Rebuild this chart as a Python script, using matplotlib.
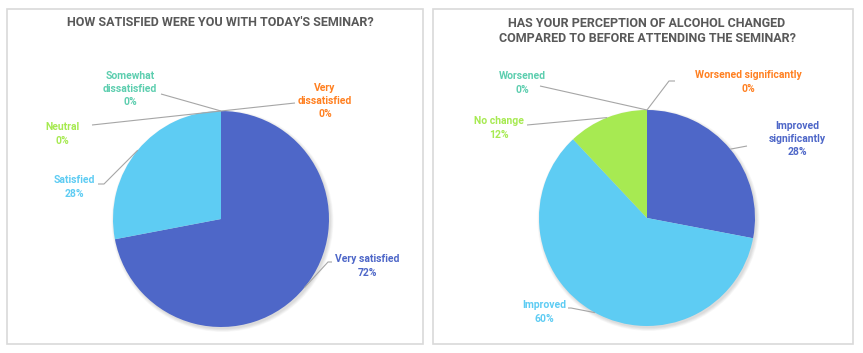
import numpy as np
import matplotlib.pyplot as plt
from matplotlib.patches import Rectangle, Circle, Wedge

plt.rcParams['font.family'] = ['Roboto', 'DejaVu Sans']

# data
sat_labels = ["Very satisfied", "Satisfied", "Neutral", "Somewhat\ndissatisfied", "Very\ndissatisfied"]
sat_values = [72, 28, 0, 0, 0]
perc_labels = ["Improved\nsignificantly", "Improved", "No change", "Worsened", "Worsened significantly"]
perc_values = [28, 60, 12, 0, 0]
colors = ["#4E67C8", "#5ECCF3", "#A7EA52", "#5DCEAF", "#FF8021"]

W, H = 863, 353
fig = plt.figure(figsize=(W / 100, H / 100), dpi=100)
ax = fig.add_axes([0, 0, 1, 1])
ax.set_xlim(0, W)
ax.set_ylim(H, 0)
ax.axis('off')

# panel frames
for x0, x1 in [(7, 423), (433, 853)]:
    ax.add_patch(Rectangle((x0, 9), x1 - x0, 335, fill=False, ec="#D9D9D9", lw=1.2))

ax.text(220, 23, "HOW SATISFIED WERE YOU WITH TODAY'S SEMINAR?", ha='center', va='center',
        fontsize=9, fontweight='bold', color="#595959")
ax.text(647, 31, "HAS YOUR PERCEPTION OF ALCOHOL CHANGED\nCOMPARED TO BEFORE ATTENDING THE SEMINAR?",
        ha='center', va='center', fontsize=9, fontweight='bold', color="#595959", linespacing=1.25)


def draw_pie(cx, cy, r, values, labels, label_pos):
    # soft shadow
    for k in range(6):
        ax.add_patch(Circle((cx + 1.5, cy + 2), r + 3 - k * 0.6, color="#000000", alpha=0.025, lw=0))
    total = sum(values)
    start = 0.0
    for i, v in enumerate(values):
        frac = v / total * 360
        # clockwise from 12 o'clock, y axis is inverted
        a0, a1 = -90 + start, -90 + start + frac
        if frac > 0:
            ax.add_patch(Wedge((cx, cy), r, a0, a1, color=colors[i], lw=0))
        mid = np.radians((a0 + a1) / 2)
        ex, ey = cx + r * np.cos(mid), cy + r * np.sin(mid)
        tx, ty, lx, ly, elbow = label_pos[i]
        pts_x, pts_y = [lx], [ly]
        if elbow is not None:
            pts_x.append(elbow)
            pts_y.append(ly)
        pts_x.append(ex)
        pts_y.append(ey)
        ax.plot(pts_x, pts_y, color="#A6A6A6", lw=0.8, solid_capstyle='butt')
        ax.text(tx, ty, "{}\n{}%".format(labels[i], v), ha='center', va='center',
                fontsize=7.5, fontweight='bold', color=colors[i], linespacing=1.4)
        start += frac


# (text x, text y, leader x, leader y, elbow x)
sat_pos = [
    (367, 266, 332, 262, 328),
    (74, 187, 98, 184, 104),
    (62, 134, 92, 125, None),
    (130, 89, 161, 94, None),
    (325, 101, 295, 103, None),
]
perc_pos = [
    (797, 139, 747, 146, None),
    (544, 312, 568, 308, 571),
    (499, 128, 527, 125, None),
    (522, 83, 540, 86, None),
    (748, 82, 675, 81, 669),
]

draw_pie(221, 219, 108, sat_values, sat_labels, sat_pos)
draw_pie(647, 218, 108, perc_values, perc_labels, perc_pos)

fig.savefig("out.png", dpi=100, facecolor="white")
